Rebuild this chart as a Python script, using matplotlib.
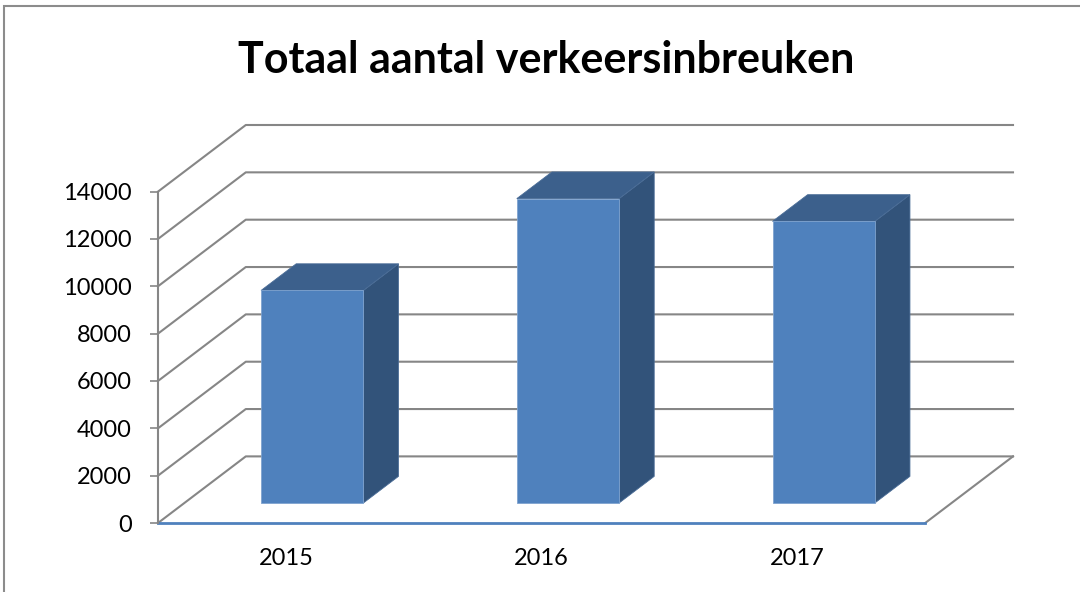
import numpy as np
import matplotlib
matplotlib.use("Agg")
import matplotlib.pyplot as plt
from matplotlib.patches import Polygon, Rectangle

# data
years = ["2015", "2016", "2017"]
values = [8980, 12860, 11900]
yticks = [0, 2000, 4000, 6000, 8000, 10000, 12000, 14000]
title = "Totaal aantal verkeersinbreuken"

# 3d look (oblique offset of full depth, in data units)
DX = 0.3433      # categories
DY = 2814        # value units
bar_w = 0.4
f0, f1 = 0.3, 0.7   # bar front/back depth fraction

front_col = "#4F81BD"
side_col = "#32537A"
top_col = "#3C608C"
grid_col = "#868686"

plt.rcParams['font.family'] = ['Lato', 'DejaVu Sans']

fig = plt.figure(figsize=(10.8, 5.92), dpi=100)
W, H = 1080, 592

# outer chart border
fig.patches.append(Rectangle((4 / W, -0.1), 1.2, 1 - 6 / H + 0.1,
                             transform=fig.transFigure, fill=False,
                             edgecolor="#8c8c8c", linewidth=1.5))

ax = fig.add_axes([158 / W, (H - 523) / H, (1013 - 158) / W, (523 - 125) / H])
ax.set_xlim(0, len(years) + DX)
ax.set_ylim(0, yticks[-1] + DY)
ax.patch.set_alpha(0)

# gridlines: side wall diagonal + back wall horizontal
for t in yticks:
    ax.plot([0, DX, len(years) + DX], [t, t + DY, t + DY],
            color=grid_col, lw=1.5, clip_on=False, zorder=1)
# floor right edge
ax.plot([len(years) + DX, len(years)], [DY, 0], color=grid_col, lw=1.5,
        clip_on=False, zorder=1)
# front floor edge (category axis)
ax.plot([0, len(years)], [0, 0], color=front_col, lw=2, clip_on=False, zorder=2)

# bars
for i, v in enumerate(values):
    c = i + 0.5
    x0 = c - bar_w / 2 + f0 * DX
    x1 = c + bar_w / 2 + f0 * DX
    y0 = f0 * DY
    y1 = v + f0 * DY
    ddx = (f1 - f0) * DX
    ddy = (f1 - f0) * DY
    side = [(x1, y0), (x1 + ddx, y0 + ddy), (x1 + ddx, y1 + ddy), (x1, y1)]
    top = [(x0, y1), (x1, y1), (x1 + ddx, y1 + ddy), (x0 + ddx, y1 + ddy)]
    front = [(x0, y0), (x1, y0), (x1, y1), (x0, y1)]
    ax.add_patch(Polygon(side, closed=True, facecolor=side_col,
                         edgecolor="#4a6c96", lw=0.6, zorder=3))
    ax.add_patch(Polygon(top, closed=True, facecolor=top_col,
                         edgecolor="#4a6c96", lw=0.6, zorder=3))
    ax.add_patch(Polygon(front, closed=True, facecolor=front_col,
                         edgecolor="#7fa3cf", lw=0.6, zorder=4))

# axes
for s in ["top", "right", "bottom"]:
    ax.spines[s].set_visible(False)
ax.spines["left"].set_bounds(0, yticks[-1])
ax.spines["left"].set_color(grid_col)
ax.spines["left"].set_linewidth(1.5)
ax.set_yticks(yticks)
ax.set_yticklabels([str(t) for t in yticks])
ax.tick_params(axis="y", direction="out", length=6, width=1.2, color=grid_col,
               pad=13, labelsize=17, labelcolor="black")
ax.set_xticks([i + 0.5 for i in range(len(years))])
ax.set_xticklabels(years)
ax.tick_params(axis="x", length=0, pad=18, labelsize=17, labelcolor="black")

fig.text(546 / W, 1 - 72.7 / H, title, ha="center", va="baseline",
         fontsize=31, fontweight="bold")

fig.savefig("out.png", dpi=100)
